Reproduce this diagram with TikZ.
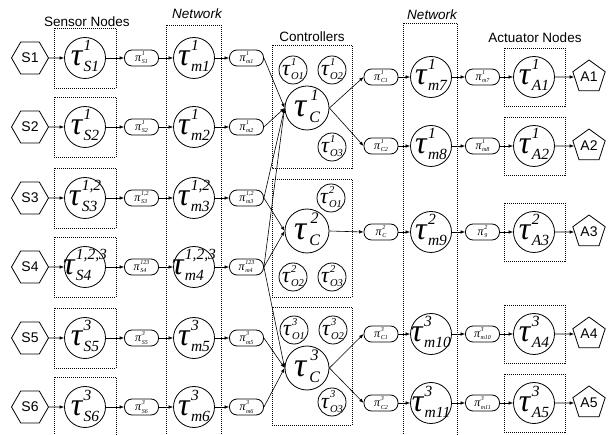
\documentclass[tikz,border=0pt]{standalone}
\usepackage{fontspec}
\setmainfont{Liberation Serif}
\newfontfamily\sansf{Liberation Sans}
\usetikzlibrary{shapes.geometric,arrows.meta}
\newcommand{\TB}[2]{\makebox[0pt]{\smash{\raisebox{-8pt}{\fontsize{32}{32}\selectfont\itshape τ\kern1.5pt\raisebox{-6pt}{\fontsize{15.5}{21}\selectfont\begin{tabular}[b]{@{}l@{}}#1\\#2\end{tabular}}}}}}
\newcommand{\TC}[2]{\makebox[0pt]{\smash{\raisebox{-9pt}{\fontsize{34}{34}\selectfont\itshape τ\kern3pt\raisebox{-6pt}{\fontsize{16}{22}\selectfont\begin{tabular}[b]{@{}c@{}}#1\\#2\end{tabular}}}}}}
\newcommand{\TS}[2]{\makebox[0pt]{\smash{\raisebox{-6pt}{\fontsize{22}{22}\selectfont\itshape τ\kern1pt\raisebox{-4pt}{\fontsize{10.5}{14}\selectfont\begin{tabular}[b]{@{}l@{}}#1\\#2\end{tabular}}}}}}
\newcommand{\PV}[2]{\makebox[0pt]{\smash{\raisebox{-3.5pt}{\fontsize{12}{12}\selectfont\itshape π\kern0.6pt\raisebox{-2.5pt}{\fontsize{6}{8.5}\selectfont\begin{tabular}[b]{@{}l@{}}#1\\#2\end{tabular}}}}}}
\begin{document}
\begin{tikzpicture}[x=1pt,y=-1pt,
  box/.style={draw, dash pattern=on 1pt off 1pt, line width=0.6pt},
  big/.style={circle, draw, line width=0.8pt, minimum size=41pt, inner sep=0pt},
  ctl/.style={circle, draw, line width=0.8pt, minimum size=44pt, inner sep=0pt},
  sml/.style={circle, draw, line width=0.8pt, minimum size=28pt, inner sep=0pt},
  msg/.style={draw, line width=0.8pt, rounded corners=7.5pt, minimum width=34pt, minimum height=16pt, inner sep=0pt},
  hex/.style={regular polygon, regular polygon sides=6, draw, line width=0.8pt, minimum size=37pt, inner sep=0pt, font=\sansf\fontsize{14}{14}\selectfont},
  pent/.style={regular polygon, regular polygon sides=5, draw, line width=0.8pt, minimum size=34pt, inner sep=0pt, font=\sansf\fontsize{14}{14}\selectfont},
  ttl/.style={font=\sansf\fontsize{13.5}{13.5}\selectfont, inner sep=0pt},
  arr/.style={-{Latex[length=4.5pt,width=3.5pt]}, line width=0.6pt}]
\useasboundingbox (0,0) rectangle (613,435);
\fill[white] (0,0) rectangle (613,435);
% titles
\node[ttl] (tsn) at (87,22) {Sensor Nodes};
\node[ttl] (tn1) at (197,14) {\itshape Network};
\node[ttl] (tco) at (312,37) {Controllers};
\node[ttl] (tn2) at (432,15) {\itshape Network};
\node[ttl] (tan) at (535,38) {Actuator Nodes};
% network boxes
\draw[box] (166,25) rectangle (221,445);
\draw[box] (403,23) rectangle (457,445);
% controller boxes
\draw[box] (272,45) rectangle (352,168);
\draw[box] (272,179) rectangle (352,297);
\draw[box] (272,307) rectangle (352,425);
% left rows
\foreach \i/\y/\s/\p in {1/58/1/1, 2/127/1/1, 3/198/{1,2}/{1,2}, 4/267/{1,2,3}/123, 5/338/3/3, 6/407/3/3}{
  \draw[box] (54,{\y-30}) rectangle (116,{\y+30});
  \node[hex] (s\i) at (30,\y) {S\i};
  \node[big] (ts\i) at (85,\y) {\TB{\s}{S\i}};
  \node[msg] (ps\i) at (141.5,\y) {\PV{\p}{S\i}};
  \node[big] (tm\i) at (194,\y) {\TB{\s}{m\i}};
  \node[msg] (pm\i) at (246.5,\y) {\PV{\p}{m\i}};
  \draw[arr] (s\i) -- (ts\i);
  \draw[arr] (ts\i) -- (ps\i);
  \draw[arr] (ps\i) -- (tm\i);
  \draw[arr] (tm\i) -- (pm\i);
}
% controllers
\node[ctl] (c1) at (307,108) {\TC{1}{C}};
\node[ctl] (c2) at (307,231) {\TC{2}{C}};
\node[ctl] (c3) at (307,368) {\TC{3}{C}};
\node[sml] (o11) at (293,70) {\TS{1}{O1}};
\node[sml] (o12) at (332,70) {\TS{1}{O2}};
\node[sml] (o13) at (332,147) {\TS{1}{O3}};
\node[sml] (o21) at (331,198) {\TS{2}{O1}};
\node[sml] (o22) at (293,277) {\TS{2}{O2}};
\node[sml] (o23) at (332,277) {\TS{2}{O3}};
\node[sml] (o31) at (294,330) {\TS{3}{O1}};
\node[sml] (o32) at (333,330) {\TS{3}{O2}};
\node[sml] (o33) at (332,402) {\TS{3}{O3}};
% inputs to controllers
\foreach \a/\b in {pm1/c1, pm2/c1, pm3/c1, pm4/c1, pm3/c2, pm4/c2, pm4/c3, pm5/c3, pm6/c3}
  \draw[arr] (\a.east) -- (\b.west);
% right rows
\foreach \i/\y/\s/\cc/\m/\pm/\a in {1/77/1/C1/m7/m7/A1, 2/146/1/C2/m8/m8/A2, 3/232/2/C/m9/9/A3, 4/334/3/C1/m10/m10/A4, 5/403/3/C2/m11/m11/A5}{
  \draw[box] (504,{\y-29}) rectangle (565,{\y+29});
  \node[msg] (pc\i) at (381,\y) {\PV{\s}{\cc}};
  \node[big] (tr\i) at (431,\y) {\TB{\s}{\m}};
  \node[msg] (pr\i) at (482.5,\y) {\PV{\s}{\pm}};
  \node[big] (ta\i) at (534,\y) {\TB{\s}{\a}};
  \node[pent] (a\i) at (589,\y) {\a};
  \draw[arr] (pc\i) -- (tr\i);
  \draw[arr] (tr\i) -- (pr\i);
  \draw[arr] (pr\i) -- (ta\i);
  \draw[arr] (ta\i) -- (a\i);
}
\foreach \a/\b in {c1/pc1, c1/pc2, c2/pc3, c3/pc4, c3/pc5}
  \draw[arr] (\a.east) -- (\b.west);
\end{tikzpicture}
\end{document}
